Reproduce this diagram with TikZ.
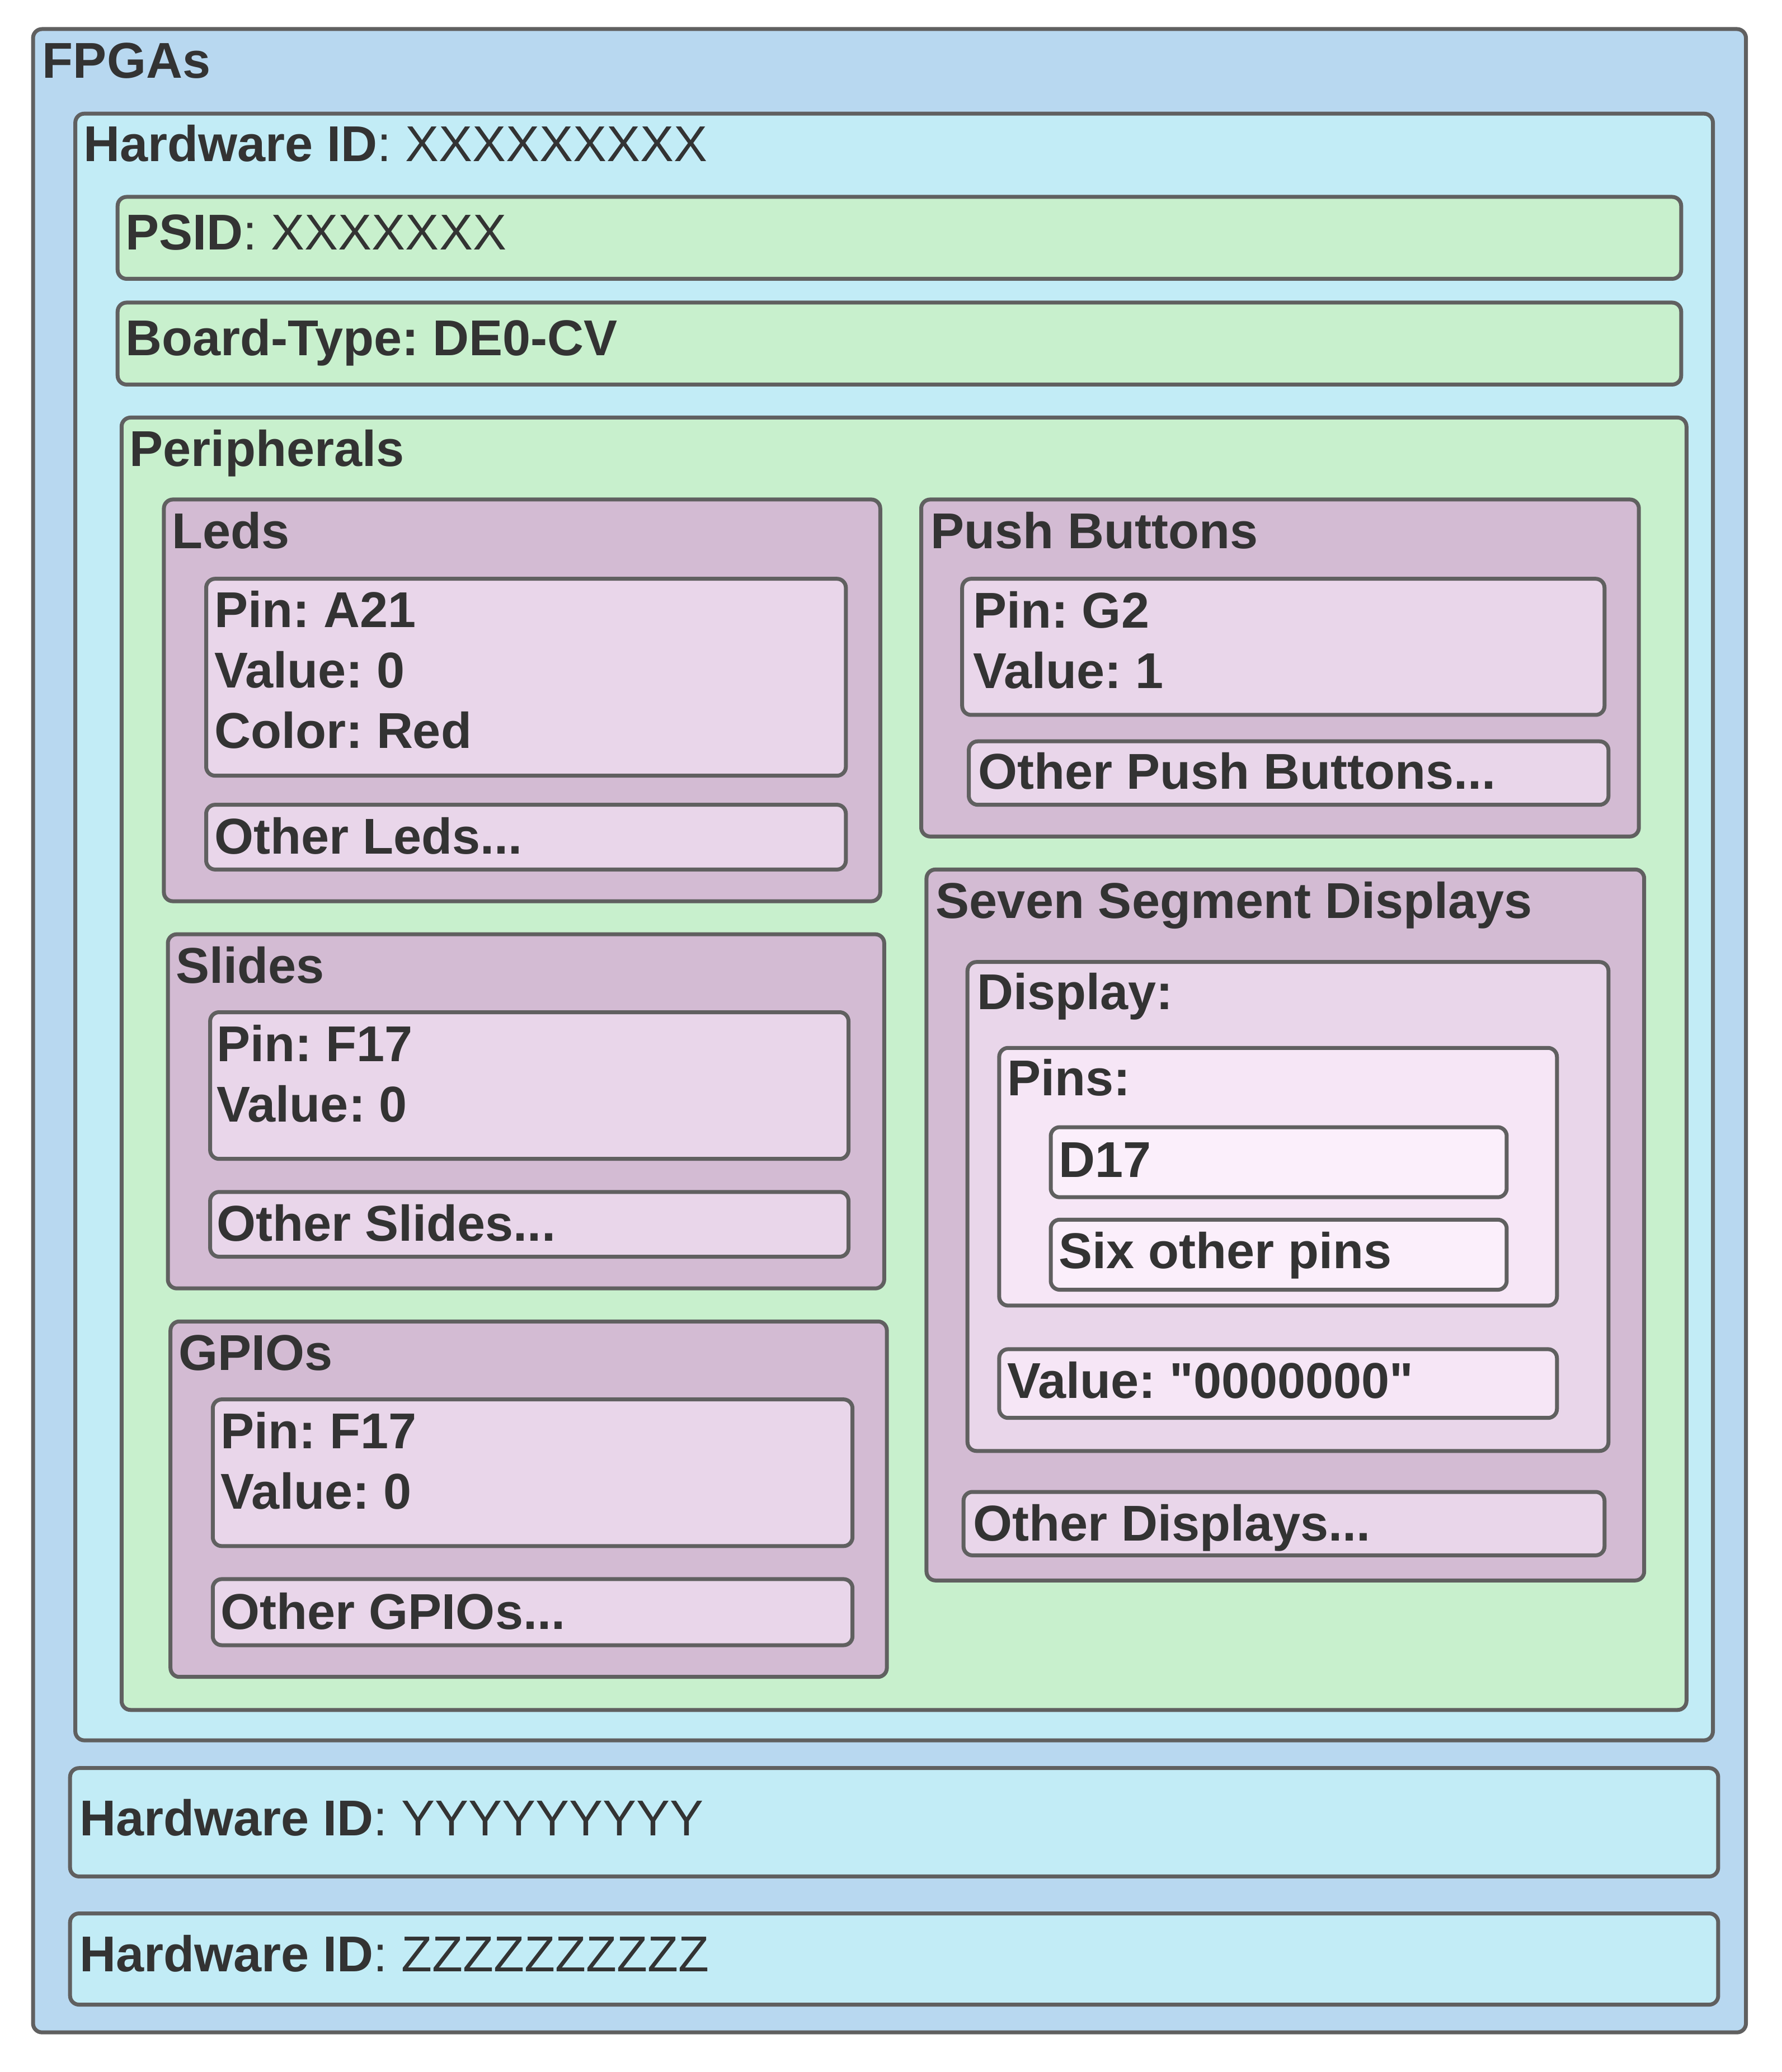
\documentclass[tikz,border=0pt]{standalone}
\usepackage{fontspec}
\setmainfont{Liberation Sans}[Ligatures=TeXOff]
\frenchspacing
\definecolor{bordc}{HTML}{606060}
\definecolor{txtc}{HTML}{333333}
\definecolor{cOuter}{HTML}{B8D8F0}
\definecolor{cHw}{HTML}{C2ECF6}
\definecolor{cGreen}{HTML}{C8F0CD}
\definecolor{cPurple}{HTML}{D3BBD3}
\definecolor{cPink}{HTML}{E9D6EA}
\definecolor{cPins}{HTML}{F6E6F6}
\definecolor{cPin}{HTML}{FBEFFB}
\begin{document}
\begin{tikzpicture}[x=1.181pt,y=-1.181pt,
  boxst/.style={draw=bordc, line width=3.5pt, rounded corners=8pt},
  lbl/.style={anchor=base west, inner sep=0pt, text=txtc,
    font=\fontsize{45}{54}\selectfont\bfseries, align=left}]
\useasboundingbox (0,0) rectangle (1348,1568);
% boxes
\draw[boxst, fill=cOuter] (25,22) rectangle (1321,1538);
\draw[boxst, fill=cHw] (57,86) rectangle (1296,1317);
\draw[boxst, fill=cGreen] (89,149) rectangle (1272,211);
\draw[boxst, fill=cGreen] (89,229) rectangle (1272,291);
\draw[boxst, fill=cGreen] (92,316) rectangle (1276,1294);
% Leds
\draw[boxst, fill=cPurple] (124,378) rectangle (666,682);
\draw[boxst, fill=cPink] (156,438) rectangle (640,587);
\draw[boxst, fill=cPink] (156,609) rectangle (640,658);
% Slides
\draw[boxst, fill=cPurple] (127,707) rectangle (669,975);
\draw[boxst, fill=cPink] (159,766) rectangle (642,877);
\draw[boxst, fill=cPink] (159,902) rectangle (642,951);
% GPIOs
\draw[boxst, fill=cPurple] (129,1000) rectangle (671,1269);
\draw[boxst, fill=cPink] (161,1059) rectangle (645,1170);
\draw[boxst, fill=cPink] (161,1195) rectangle (645,1245);
% Push buttons
\draw[boxst, fill=cPurple] (697,378) rectangle (1240,633);
\draw[boxst, fill=cPink] (728,438) rectangle (1214,541);
\draw[boxst, fill=cPink] (733,561) rectangle (1217,609);
% Seven segment
\draw[boxst, fill=cPurple] (701,658) rectangle (1244,1196);
\draw[boxst, fill=cPink] (732,728) rectangle (1217,1098);
\draw[boxst, fill=cPins] (756,793) rectangle (1178,988);
\draw[boxst, fill=cPin] (795,853) rectangle (1140,906);
\draw[boxst, fill=cPin] (795,923) rectangle (1140,976);
\draw[boxst, fill=cPins] (756,1021) rectangle (1178,1073);
\draw[boxst, fill=cPink] (729,1129) rectangle (1214,1177);
% other hardware
\draw[boxst, fill=cHw] (53,1338) rectangle (1300,1420);
\draw[boxst, fill=cHw] (53,1448) rectangle (1300,1517);
% labels
\node[lbl] (tfpga) at (32,59) {FPGAs};
\node[lbl] (thw1) at (63,122) {Hardware ID\mdseries: XXXXXXXXX};
\node[lbl] (tpsid) at (95,189) {PSID\mdseries: XXXXXXX};
\node[lbl] (tboard) at (95,269) {Board-Type: DE0-CV};
\node[lbl] (tper) at (98,353) {Peripherals};
\node[lbl] (tleds) at (130,415) {Leds};
\node[lbl] (tledpin) at (162,566) {Pin: A21\\Value: 0\\Color: Red};
\node[lbl] (tledo) at (162,646) {Other Leds...};
\node[lbl] (tpb) at (704,415) {Push Buttons};
\node[lbl] (tpbpin) at (736,521) {Pin: G2\\Value: 1};
\node[lbl] (tpbo) at (740,597) {Other Push Buttons...};
\node[lbl] (tss) at (708,695) {Seven Segment Displays};
\node[lbl] (tdisp) at (739,764) {Display:};
\node[lbl] (tpins) at (762,829) {Pins:};
\node[lbl] (td17) at (801,891) {D17};
\node[lbl] (tsix) at (801,960) {Six other pins};
\node[lbl] (tval) at (762,1058) {Value: "0000000"};
\node[lbl] (tdo) at (736,1166) {Other Displays...};
\node[lbl] (tsl) at (133,744) {Slides};
\node[lbl] (tslpin) at (164,849) {Pin: F17\\Value: 0};
\node[lbl] (tslo) at (164,939) {Other Slides...};
\node[lbl] (tgp) at (135,1037) {GPIOs};
\node[lbl] (tgppin) at (167,1142) {Pin: F17\\Value: 0};
\node[lbl] (tgpo) at (167,1233) {Other GPIOs...};
\node[lbl] (thw2) at (60,1389) {Hardware ID\mdseries: YYYYYYYYY};
\node[lbl] (thw3) at (60,1492) {Hardware ID\mdseries: ZZZZZZZZZZ};
\end{tikzpicture}
\end{document}
